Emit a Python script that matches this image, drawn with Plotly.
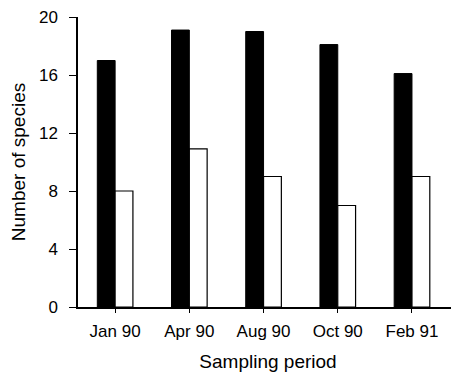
import plotly.graph_objects as go

periods = ["Jan 90", "Apr 90", "Aug 90", "Oct 90", "Feb 91"]
black_values = [17.0, 19.1, 19.0, 18.1, 16.1]
white_values = [8.0, 10.9, 9.0, 7.0, 9.0]
y_ticks = [0, 4, 8, 12, 16, 20]

fig = go.Figure()
fig.add_trace(go.Bar(x=periods, y=black_values, marker=dict(color="black", line=dict(color="black", width=1)), showlegend=False))
fig.add_trace(go.Bar(x=periods, y=white_values, marker=dict(color="white", line=dict(color="black", width=1.2)), showlegend=False))

font_family = "Liberation Sans, Arial, Helvetica, sans-serif"
# the page body adds an 8px offset, so margins compensate for it
fig.update_layout(
    width=459, height=372,
    margin=dict(l=70, r=9, t=9, b=73),
    paper_bgcolor="white", plot_bgcolor="white",
    barmode="group", bargap=0.52, bargroupgap=0,
    font=dict(family=font_family, size=17, color="black"),
)
fig.update_xaxes(
    type="category", range=[-0.5, 4.62], automargin=False,
    showline=True, linecolor="black", linewidth=1.5,
    ticks="outside", ticklen=4, tickwidth=1, tickcolor="black",
    ticklabelstandoff=4, ticklabeloverflow="allow",
    showgrid=False, zeroline=False,
    title=dict(text="Sampling period", font=dict(size=19), standoff=15),
    tickfont=dict(size=17),
)
fig.update_yaxes(
    range=[0, 20], tickvals=y_ticks, automargin=False,
    showline=True, linecolor="black", linewidth=1.5,
    ticks="outside", ticklen=7, tickwidth=1.2, tickcolor="black",
    ticklabelstandoff=8, ticklabeloverflow="allow",
    showgrid=False, zeroline=False,
    title=dict(text="Number of species", font=dict(size=19), standoff=9),
    tickfont=dict(size=17),
)
fig.write_html("out.html")
